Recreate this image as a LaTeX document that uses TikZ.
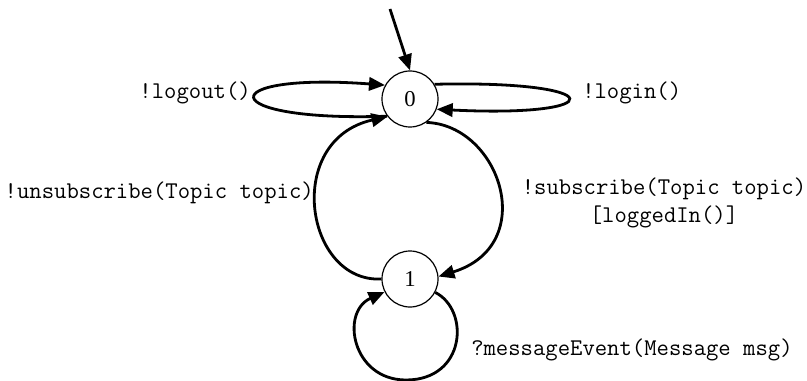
\documentclass[tikz,border=0pt]{standalone}
\usepackage{fontspec}
\setmainfont{Liberation Serif}
\usetikzlibrary{arrows.meta}
\begin{document}
\begin{tikzpicture}[x=0.75pt,y=-0.75pt,
  state/.style={circle,draw,line width=0.9pt,minimum size=42pt,inner sep=0pt,font=\fontsize{17}{20}\selectfont},
  trans/.style={line width=2.1pt,-{Triangle[length=12pt,width=10pt]}},
  lbl/.style={font=\ttfamily\fontsize{18}{21}\selectfont,inner sep=0pt,align=center}]
\useasboundingbox (0,0) rectangle (807,381);
\node[state] (n0) at (410,99) {0};
\node[state] (n1) at (410,279) {1};
\coordinate (init) at (390,9);
\coordinate (loopbot) at (406,380);
\draw[trans] (init) -- (n0.north);
% self loops of 0
\draw[trans] (n0.217) .. controls (212,122) and (212,72) .. (n0.151);
\draw[trans] (n0.31) .. controls (612,80) and (612,118) .. (n0.-21);
% 0 -> 1
\draw[trans] (n0.-55) .. controls (500,125) and (540,245) .. (n1.5);
% 1 -> 0
\draw[trans] (n1.180) .. controls (305,283) and (283,140) .. (n0.218);
% self loop of 1
\draw[trans] (n1.-28) .. controls (470,310) and (466,380) .. (loopbot)
  .. controls (352,380) and (340,312) .. (n1.207);
% labels
\node[lbl,anchor=east] (l0) at (251,93) {!logout()};
\node[lbl,anchor=west] (l1) at (582,93) {!login()};
\node[lbl,anchor=east] (l2) at (314,193) {!unsubscribe(Topic topic)};
\node[lbl] (l3) at (664,203) {!subscribe(Topic topic)\\{}[loggedIn()]};
\node[lbl,anchor=west] (l4) at (471,350) {?messageEvent(Message msg)};
\end{tikzpicture}
\end{document}
